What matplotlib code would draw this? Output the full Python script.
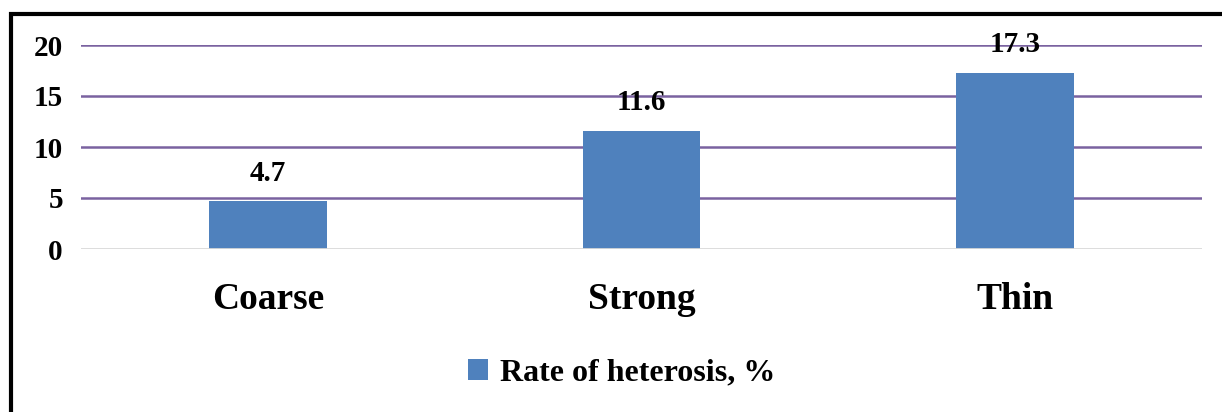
import numpy as np
import matplotlib.pyplot as plt
from matplotlib.patches import Rectangle

categories = ['Coarse', 'Strong', 'Thin']
heterosis = [4.7, 11.6, 17.3]
yticks = [0, 5, 10, 15, 20]
series_name = 'Rate of heterosis, %'

plt.rcParams['font.family'] = ['Liberation Serif', 'DejaVu Serif']
plt.rcParams['font.weight'] = 'bold'

W, H = 1222, 412
fig = plt.figure(figsize=(W / 100, H / 100), dpi=100)
ax = fig.add_axes([81 / W, 1 - 249 / H, 1121 / W, 204 / H])

x = np.arange(len(categories))
bars = ax.bar(x, heterosis, width=0.315, color='#4f81bd', zorder=3, label=series_name)
for xi, v in zip(x, heterosis):
    ax.text(xi, v + 1.4, '%.1f' % v, ha='center', va='bottom',
            fontsize=21, fontweight='bold', zorder=2)

ax.set_xlim(-0.5, 2.5)
ax.set_ylim(0, 20)
ax.set_yticks(yticks)
ax.set_yticklabels([str(t) for t in yticks], fontsize=21, fontweight='bold')
ax.set_xticks(x)
ax.set_xticklabels(categories, fontsize=27, fontweight='bold')
ax.tick_params(length=0)
ax.tick_params(axis='y', pad=13)
ax.tick_params(axis='x', pad=24)

for t in yticks[1:]:
    ax.axhline(t, color='#7a62a0', lw=1.8, zorder=1)
ax.axhline(0, color='#d9d9d9', lw=2, zorder=4)
for s in ax.spines.values():
    s.set_visible(False)

fig.legend(handles=[bars], labels=[series_name], loc='center',
           bbox_to_anchor=(622 / W, 1 - 373 / H), frameon=False,
           prop={'size': 23, 'weight': 'bold'}, handlelength=0.63,
           handleheight=0.63, handletextpad=0.37)

# outer frame, running off the right and bottom edges
fig.patches.append(Rectangle((11 / W, -0.1), 1.2, 1.1 - 14 / H,
                             transform=fig.transFigure, fill=False,
                             edgecolor='black', lw=3))

fig.savefig('out.png', dpi=100)
